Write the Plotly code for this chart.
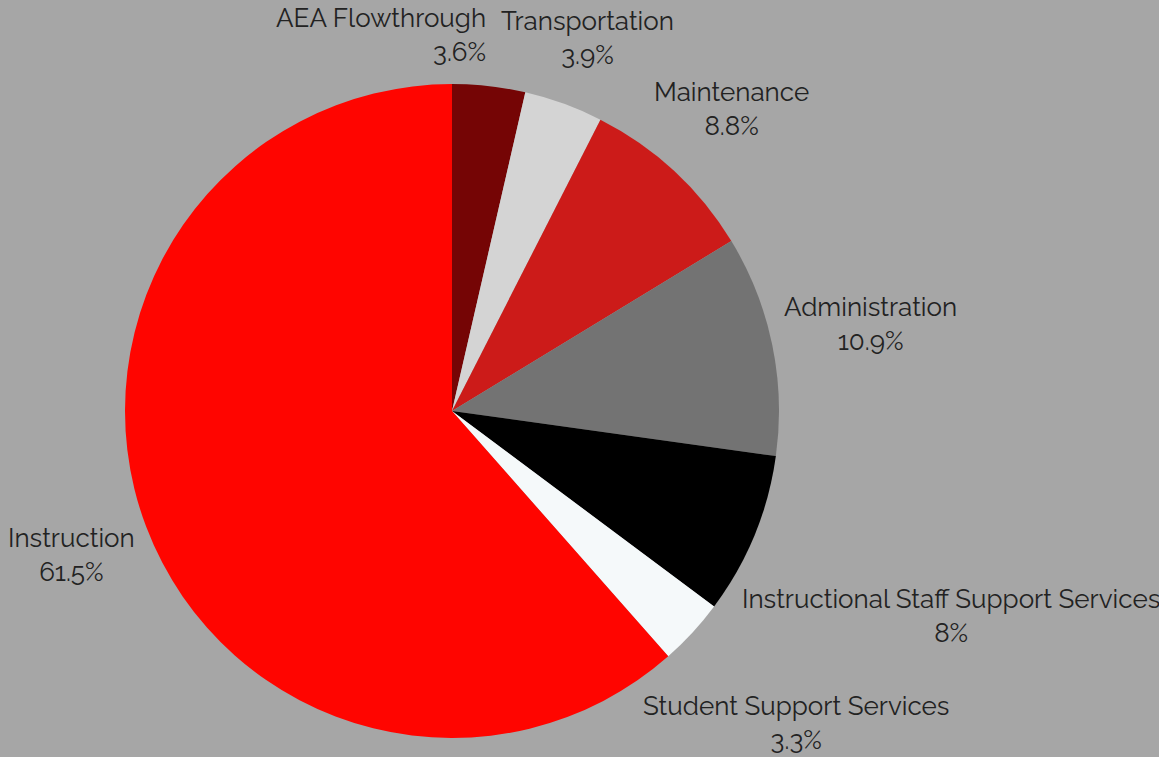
import math
import plotly.graph_objects as go

labels = ["AEA Flowthrough", "Transportation", "Maintenance", "Administration",
          "Instructional Staff Support Services", "Student Support Services", "Instruction"]
values = [3.6, 3.9, 8.8, 10.9, 8, 3.3, 61.5]
colors = ["#750505", "#d4d4d4", "#cc1b19", "#737373", "#000000", "#f5f9fa", "#ff0500"]

W, H = 1159, 757
MT, MB = 84, 19
PH = H - MT - MB            # plot height -> pie diameter
r = PH / 2
cx = 452
cy = MT + r
FS = 26
FONT = "Raleway, Open Sans"
TEXT_COLOR = "#222222"

# approximate advance widths (em) for label-box estimation
_cw = {"a": .53, "b": .58, "c": .52, "d": .58, "e": .55, "f": .33, "g": .58, "h": .57,
       "i": .24, "l": .25, "m": .88, "n": .57, "o": .57, "p": .58, "r": .36, "s": .46,
       "t": .35, "u": .57, "v": .52, "w": .82, "y": .52, "A": .66, "E": .6, "F": .57,
       "I": .27, "M": .77, "S": .57, "T": .56, " ": .25, ".": .24, "%": .75}


def text_w(s):
    return sum(_cw.get(ch, .6) for ch in s) * FS


fig = go.Figure(go.Pie(
    labels=labels,
    values=values,
    sort=False,
    direction="clockwise",
    rotation=0,
    marker=dict(colors=colors, line=dict(width=0)),
    textinfo="none",
    hoverinfo="label+percent",
    domain=dict(x=[(cx - r) / W, (cx + r) / W], y=[0, 1]),
    showlegend=False,
))

# label layout: box centre along the slice's mid-angle, box edge a small gap off the rim
total = sum(values)
mids, cum = [], 0.0
for v in values:
    mids.append((cum + v / 2) / total * 360)
    cum += v

GAP = 10
PAD = 12
BOX_H = 2 * 1.25 * FS


def box_at(theta_deg, w):
    t = math.radians(theta_deg)
    s, c = math.sin(t), math.cos(t)
    R = r + GAP + (w / 2) * abs(s) + (BOX_H / 2) * abs(c)
    x, y = cx + R * s, cy - R * c
    x = min(max(x, w / 2 + 2), W - w / 2 - 2)
    y = min(max(y, BOX_H / 2 + 2), H - BOX_H / 2 - 2)
    return (x, y, w)


def overlaps(a, b):
    ax, ay, aw = a
    bx, by, bw = b
    return abs(ax - bx) < (aw + bw) / 2 + PAD and abs(ay - by) < BOX_H


boxes, offsets = {}, {}
for i in sorted(range(len(values)), key=lambda k: -values[k]):
    pct = f"{values[i]:g}%"
    w = max(text_w(labels[i]), text_w(pct))
    off = 0
    b = box_at(mids[i], w)
    for k in range(0, 120):
        off = (-(k // 2 + 1) if k % 2 else k // 2) if k else 0
        b = box_at(mids[i] + off, w)
        if not any(overlaps(b, p) for p in boxes.values()):
            break
    boxes[i] = b
    offsets[i] = off

for i, (x, y, w) in boxes.items():
    off = offsets[i]
    align = "center" if off == 0 else ("right" if off < 0 else "left")
    fig.add_annotation(
        x=x / W, y=(H - MB - y) / PH, xref="paper", yref="paper",
        xanchor="center", yanchor="middle", align=align, showarrow=False,
        text=f"{labels[i]}<br>{values[i]:g}%",
        font=dict(family=FONT, size=FS, color=TEXT_COLOR),
    )

fig.update_layout(
    width=W, height=H,
    paper_bgcolor="#a6a6a6",
    plot_bgcolor="#a6a6a6",
    margin=dict(l=0, r=0, t=MT, b=MB, autoexpand=False),
)
fig.write_html("out.html", config={"displayModeBar": False},
               post_script="document.body.style.margin='0';document.body.style.overflow='hidden';")
